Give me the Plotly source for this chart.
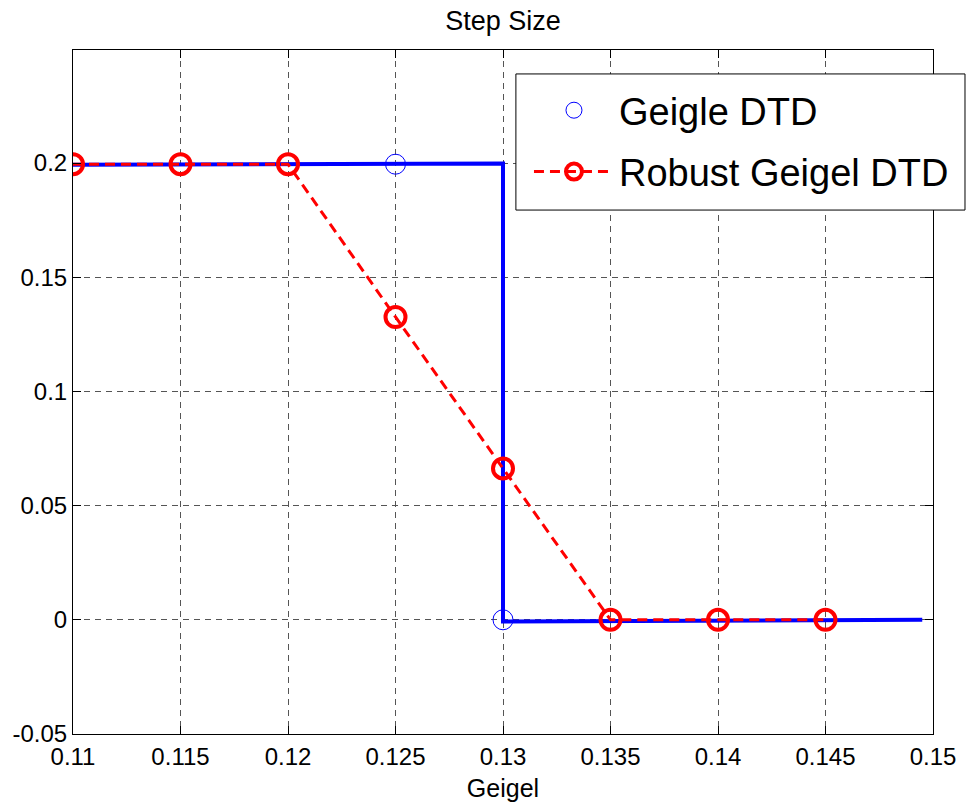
import plotly.graph_objects as go

# Sample points of the two detectors
geigel = [0.11, 0.115, 0.12, 0.125, 0.13, 0.135, 0.14, 0.145]
geigle_dtd = [0.1995, 0.1995, 0.1995, 0.1995, 0.0, 0.0, 0.0, 0.0]
robust_dtd = [0.1995, 0.1995, 0.1995, 0.1326, 0.0663, 0.0, 0.0, 0.0]

# Continuous step curve of the plain detector
step_x = [0.11, 0.13, 0.13, 0.1495]
step_y = [0.1993, 0.1998, -0.0007, 0.0]

x_ticks = [0.11, 0.115, 0.12, 0.125, 0.13, 0.135, 0.14, 0.145, 0.15]
y_ticks = [-0.05, 0.0, 0.05, 0.1, 0.15, 0.2]

FONT = "Liberation Sans, Arial, sans-serif"

fig = go.Figure()

fig.add_trace(go.Scatter(
    x=step_x, y=step_y, mode="lines",
    line=dict(color="#0000ff", width=4),
    showlegend=False, hoverinfo="skip",
))
fig.add_trace(go.Scatter(
    x=geigel, y=geigle_dtd, mode="markers", name="Geigle DTD",
    marker=dict(symbol="circle-open", size=20, color="#0000ff",
                line=dict(width=1, color="#0000ff")),
    legendgroup="a",
))
fig.add_trace(go.Scatter(
    x=geigel, y=robust_dtd, mode="lines+markers", name="Robust Geigel DTD",
    line=dict(color="#ff0000", width=3, dash="10px,6px"),
    marker=dict(symbol="circle-open", size=20, color="#ff0000",
                line=dict(width=4, color="#ff0000")),
    legendgroup="b",
))

axis_common = dict(
    showline=True, linecolor="black", linewidth=1, mirror="ticks",
    ticks="inside", ticklen=8, tickwidth=1, tickcolor="black",
    showgrid=True, gridcolor="#555555", gridwidth=1, griddash="6px,5px",
    zeroline=False, automargin=False,
    tickfont=dict(family=FONT, size=24, color="black"),
)

fig.update_xaxes(
    range=[0.11, 0.15], tickvals=x_ticks,
    ticktext=[f"{v:g}" for v in x_ticks],
    ticklabelstandoff=1,
    title=dict(text="Geigel", font=dict(family=FONT, size=25, color="black"),
               standoff=10),
    **axis_common,
)
fig.update_yaxes(
    range=[-0.05, 0.2495], tickvals=y_ticks,
    ticktext=[f"{v:g}" for v in y_ticks],
    **axis_common,
)

# Legend frame (white box over the grid, reaching past the right axis)
fig.add_shape(
    type="rect", xref="paper", yref="paper",
    x0=0.515, x1=1.0372, y0=0.766, y1=0.965,
    line=dict(color="black", width=1), fillcolor="white", layer="above",
)

fig.update_layout(
    width=972, height=808,
    margin=dict(l=73, r=39, t=50, b=74, autoexpand=False),
    paper_bgcolor="white", plot_bgcolor="white",
    title=dict(text="Step Size", x=0.5175, xanchor="center", y=0.975,
               yanchor="middle",
               font=dict(family=FONT, size=27, color="black")),
    legend=dict(
        x=0.5302, y=0.9576, xanchor="left", yanchor="top",
        bgcolor="rgba(0,0,0,0)", borderwidth=0,
        font=dict(family=FONT, size=38, color="black"),
        itemwidth=80, tracegroupgap=9, traceorder="grouped",
    ),
    showlegend=True,
)

fig.write_html("out.html")
